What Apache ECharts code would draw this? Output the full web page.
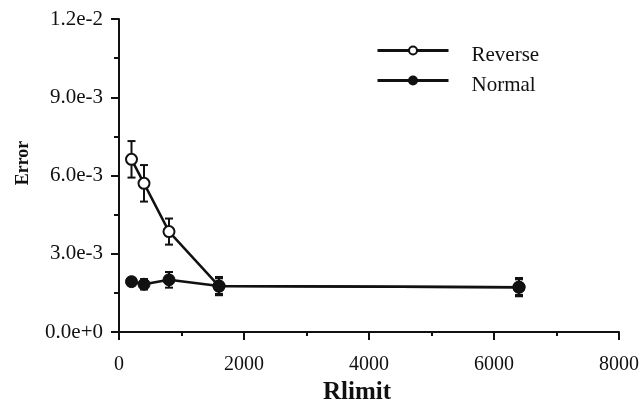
<!DOCTYPE html>
<html>
<head>
<meta charset="utf-8">
<script src="https://cdn.jsdelivr.net/npm/echarts@6/dist/echarts.min.js"></script>
<style>
  html, body { margin: 0; padding: 0; background: #ffffff; }
  #chart { width: 643px; height: 402px; }
</style>
</head>
<body>
<div id="chart"></div>
<script>
// Error vs. Rlimit, mean with standard-deviation whiskers
const rlimit = [200, 400, 800, 1600, 6400];
const reverseMean = [0.00662, 0.00570, 0.00385, 0.00176, 0.00172];
const reverseDev = [0.0007, 0.0007, 0.0005, 0.0003, 0.0003];
const normalMean = [0.00193, 0.00183, 0.00200, 0.00176, 0.00172];
const normalDev = [0.00015, 0.0002, 0.0003, 0.00035, 0.00035];
const seriesNames = ['Reverse', 'Normal'];

const FONT = 'Liberation Serif';
const INK = '#111';

function pairs(xs, ys) { return xs.map((x, i) => [x, ys[i]]); }
function whiskers(xs, ys, ds) { return xs.map((x, i) => [x, ys[i] - ds[i], ys[i] + ds[i]]); }

function renderWhisker(params, api) {
  const x = api.value(0);
  const lo = api.coord([x, api.value(1)]);
  const hi = api.coord([x, api.value(2)]);
  const half = 4;
  const style = { stroke: INK, lineWidth: 2 };
  return {
    type: 'group',
    children: [
      { type: 'line', shape: { x1: lo[0], y1: lo[1], x2: hi[0], y2: hi[1] }, style },
      { type: 'line', shape: { x1: lo[0] - half, y1: lo[1], x2: lo[0] + half, y2: lo[1] }, style },
      { type: 'line', shape: { x1: hi[0] - half, y1: hi[1], x2: hi[0] + half, y2: hi[1] }, style }
    ]
  };
}

const chart = echarts.init(document.getElementById('chart'));
chart.setOption({
  backgroundColor: '#ffffff',
  animation: false,
  textStyle: { fontFamily: FONT, color: INK },
  grid: { left: 119, right: 24, top: 19, bottom: 70, containLabel: false, outerBoundsMode: 'none' },
  legend: {
    data: seriesNames,
    orient: 'vertical',
    left: 371,
    top: 30,
    itemWidth: 71,
    itemHeight: 10,
    itemGap: -1,
    lineStyle: { width: 3 },
    // an empty first line drops each name slightly below its key line
    formatter: name => '\n' + name,
    textStyle: { fontFamily: FONT, fontSize: 21, lineHeight: 10, color: INK, padding: [0, 0, 0, 18] }
  },
  xAxis: {
    type: 'value',
    min: 0,
    max: 8000,
    interval: 2000,
    name: 'Rlimit',
    nameLocation: 'middle',
    nameGap: 45,
    nameTextStyle: { fontFamily: FONT, fontSize: 25, fontWeight: 'bold', color: INK, padding: [0, 24, 0, 0] },
    axisLine: { lineStyle: { color: INK, width: 2 } },
    axisTick: { length: 8, lineStyle: { color: INK, width: 2 } },
    minorTick: { show: true, splitNumber: 2, length: 4, lineStyle: { color: INK, width: 2 } },
    axisLabel: { fontFamily: FONT, fontSize: 20, color: INK, margin: 23, formatter: v => String(v) },
    splitLine: { show: false }
  },
  yAxis: {
    type: 'value',
    min: 0,
    max: 0.012,
    interval: 0.003,
    name: 'Error',
    nameLocation: 'middle',
    nameGap: 87,
    nameRotate: 90,
    nameTextStyle: { fontFamily: FONT, fontSize: 18, fontWeight: 'bold', color: INK, padding: [0, 0, 0, 25] },
    axisLine: { show: true, lineStyle: { color: INK, width: 2 } },
    axisTick: { show: true, length: 8, lineStyle: { color: INK, width: 2 } },
    minorTick: { show: true, splitNumber: 2, length: 5, lineStyle: { color: INK, width: 2 } },
    axisLabel: {
      fontFamily: FONT, fontSize: 21, color: INK, margin: 16,
      formatter: v => v.toExponential(1)
    },
    splitLine: { show: false }
  },
  series: [
    {
      name: 'Reverse whiskers',
      type: 'custom',
      renderItem: renderWhisker,
      data: whiskers(rlimit, reverseMean, reverseDev),
      z: 1
    },
    {
      name: 'Normal whiskers',
      type: 'custom',
      renderItem: renderWhisker,
      data: whiskers(rlimit, normalMean, normalDev),
      z: 1
    },
    {
      name: seriesNames[0],
      type: 'line',
      data: pairs(rlimit, reverseMean),
      symbol: 'circle',
      symbolSize: 11,
      showAllSymbol: true,
      lineStyle: { color: INK, width: 2.5 },
      itemStyle: { color: '#ffffff', borderColor: INK, borderWidth: 2 },
      z: 3
    },
    {
      name: seriesNames[1],
      type: 'line',
      data: pairs(rlimit, normalMean),
      symbol: 'circle',
      symbolSize: 12,
      showAllSymbol: true,
      lineStyle: { color: INK, width: 2.5 },
      itemStyle: { color: INK, borderColor: INK, borderWidth: 1 },
      z: 4
    }
  ]
});
</script>
</body>
</html>
